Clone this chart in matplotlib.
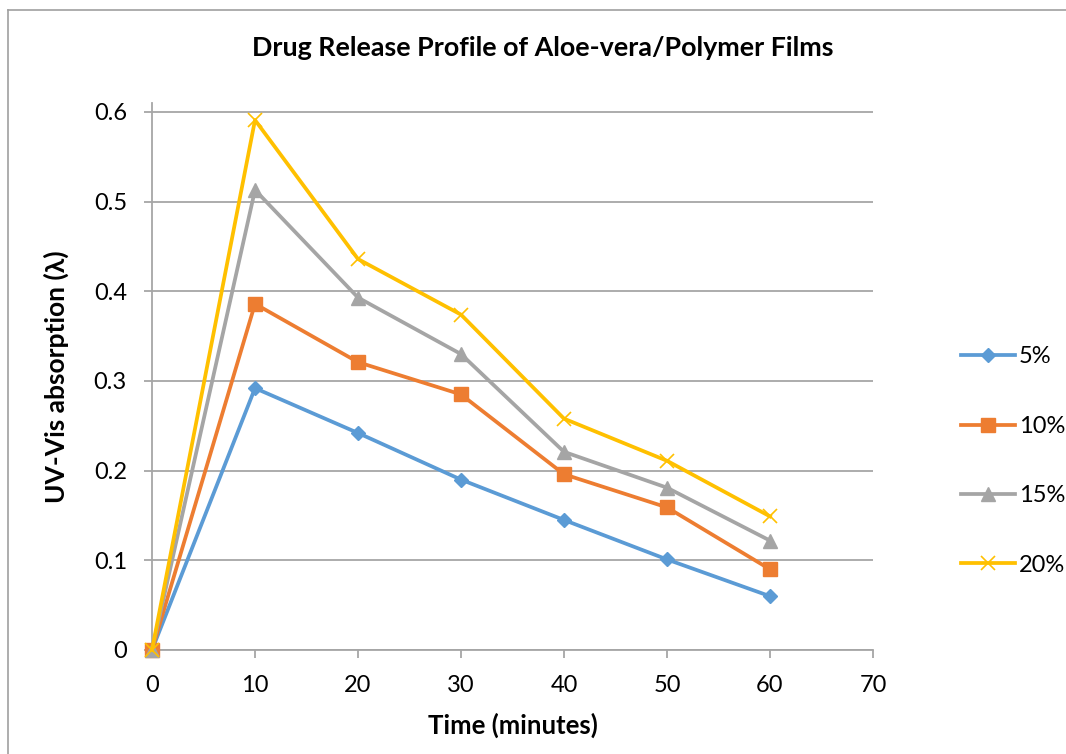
import matplotlib
matplotlib.use('Agg')
import matplotlib.pyplot as plt
from matplotlib.lines import Line2D

plt.rcParams.update({
    'font.family': ['Lato', 'DejaVu Sans'],
    'font.size': 17,
})

GRID = '#A6A6A6'

# ── Data ──────────────────────────────────────────────────────────────────
time_min = [0, 10, 20, 30, 40, 50, 60]
series_labels = ['5%', '10%', '15%', '20%']
abs_5 = [0.0, 0.292, 0.242, 0.190, 0.145, 0.101, 0.060]
abs_10 = [0.0, 0.386, 0.321, 0.285, 0.196, 0.159, 0.090]
abs_15 = [0.0, 0.513, 0.393, 0.330, 0.221, 0.181, 0.122]
abs_20 = [0.0, 0.591, 0.436, 0.374, 0.258, 0.211, 0.149]
x_ticks = [0, 10, 20, 30, 40, 50, 60, 70]
y_ticks = [0, 0.1, 0.2, 0.3, 0.4, 0.5, 0.6]
y_tick_labels = ['0', '0.1', '0.2', '0.3', '0.4', '0.5', '0.6']

styles = [
    dict(color='#5B9BD5', marker='D', markersize=7.5),
    dict(color='#ED7D31', marker='s', markersize=9.5),
    dict(color='#A5A5A5', marker='^', markersize=10),
    dict(color='#FFC000', marker='x', markersize=10, markeredgewidth=1.2),
]

fig = plt.figure(figsize=(10.66, 7.54), dpi=100)
ax = fig.add_axes([152 / 1066, 1 - 650 / 754, (873 - 152) / 1066, (650 - 103) / 754])

for vals, lab, st in zip([abs_5, abs_10, abs_15, abs_20], series_labels, styles):
    ax.plot(time_min, vals, lw=2.7, label=lab, solid_joinstyle='round',
            clip_on=False, zorder=3, **st)

ax.set_xlim(0, 70)
ax.set_ylim(0, 0.61)
ax.set_xticks(x_ticks)
ax.set_yticks(y_ticks)
ax.set_yticklabels(y_tick_labels)
ax.yaxis.grid(True, color=GRID, lw=1.3)
ax.set_axisbelow(True)
for side in ['top', 'right']:
    ax.spines[side].set_visible(False)
for side in ['left', 'bottom']:
    ax.spines[side].set_color(GRID)
    ax.spines[side].set_linewidth(1.3)
ax.tick_params(axis='both', direction='out', length=6, width=1.3,
               color=GRID, labelsize=17, pad=12)

ax.set_xlabel('Time (minutes)', fontweight='bold', fontsize=18.5, labelpad=12)
ax.set_ylabel('UV-Vis absorption (λ)', fontweight='bold', fontsize=19, labelpad=18)

fig.text(543 / 1066, 1 - 48 / 754, 'Drug Release Profile of Aloe-vera/Polymer Films',
         ha='center', va='center', fontweight='bold', fontsize=19.4)

ax.legend(loc='center left', bbox_to_anchor=(961 / 1066, 1 - 461 / 754),
          bbox_transform=fig.transFigure, frameon=False, borderpad=0,
          borderaxespad=0, handlelength=2.3, handletextpad=0.15,
          labelspacing=2.05, fontsize=17)

# thin chart-area border (left and top only, as in the reference)
fig.add_artist(Line2D([8 / 1066, 8 / 1066], [0, 1 - 10 / 754],
                      transform=fig.transFigure, color='#A0A0A0', lw=1.2))
fig.add_artist(Line2D([8 / 1066, 1], [1 - 10 / 754, 1 - 10 / 754],
                      transform=fig.transFigure, color='#A0A0A0', lw=1.2))

fig.savefig('out.png', dpi=100)
plt.close(fig)
